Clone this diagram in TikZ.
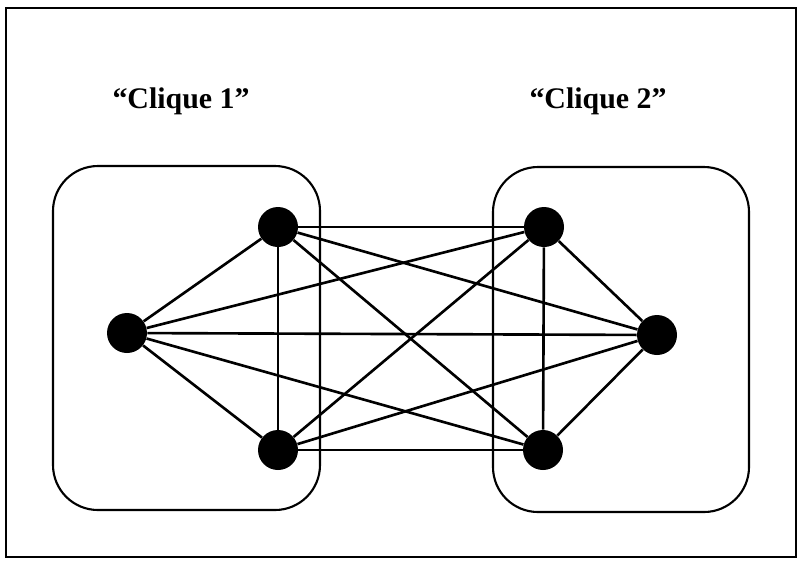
\documentclass[tikz,border=0pt]{standalone}
\usepackage{fontspec}
\setmainfont{Liberation Serif}
\usepackage{tikz}
\usetikzlibrary{positioning}

\begin{document}
\begin{tikzpicture}[
    x=0.2mm,y=-0.2mm,
    vtx/.style={circle,fill=black,inner sep=0pt,minimum size=8mm},
    cbox/.style={draw,line width=1.2pt,rounded corners=9mm},
    link/.style={line width=1.5pt},
    ttl/.style={font=\fontsize{17}{20}\selectfont\bfseries}]
    \useasboundingbox (0,0) rectangle (799,560);
    \draw[line width=1.6pt] (6,8) rectangle (796,557);
    \draw[cbox] (53,166) rectangle (320,510);
    \draw[cbox] (493,167) rectangle (749,512);
    \node[ttl] (t1) at (181,101) {“Clique 1”};
    \node[ttl] (t2) at (598,101) {“Clique 2”};
    % clique 1
    \node[vtx] (a1) at (278,227) {};
    \node[vtx] (a2) at (127,333) {};
    \node[vtx] (a3) at (278,450) {};
    % clique 2
    \node[vtx] (b1) at (544,227) {};
    \node[vtx] (b2) at (657,335) {};
    \node[vtx] (b3) at (543,450) {};
    \foreach \u/\v in {a1/a2,a1/a3,a2/a3,b1/b2,b1/b3,b2/b3,
        a1/b1,a1/b2,a1/b3,a2/b1,a2/b2,a2/b3,a3/b1,a3/b2,a3/b3}
      \draw[link] (\u) -- (\v);
  \end{tikzpicture}
\end{document}
